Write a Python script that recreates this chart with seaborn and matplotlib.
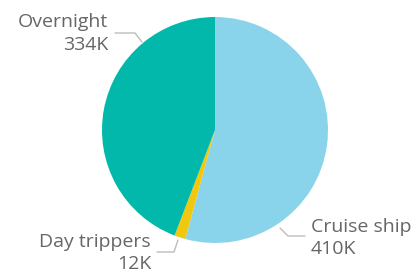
import matplotlib
matplotlib.use("Agg")
import matplotlib.pyplot as plt
import seaborn as sns

categories = ["Cruise ship", "Day trippers", "Overnight"]
values = [410, 12, 334]
value_labels = ["410K", "12K", "334K"]
colors = ["#8AD4EB", "#F2C80F", "#01B8AA"]

sns.set_theme(style="white")
plt.rcParams['font.family'] = ['Open Sans', 'DejaVu Sans']

W, H = 415, 274
fig = plt.figure(figsize=(W / 100, H / 100), dpi=100)
ax = fig.add_axes([0, 0, 1, 1])

ax.pie(values, colors=colors, startangle=90, counterclock=False,
       radius=113, center=(215, H - 130),
       wedgeprops=dict(linewidth=0))
ax.set_xlim(0, W)
ax.set_ylim(0, H)
ax.set_aspect('equal')
ax.axis('off')

txt_color = "#666666"
line_color = "#BDBDBD"
fs = 14

def Y(y):
    return H - y

# Overnight
ax.plot([115, 135, 142], [Y(33), Y(33), Y(42)], color=line_color, lw=1)
ax.text(108, Y(22), categories[2], ha='right', va='center', fontsize=fs, color=txt_color)
ax.text(108, Y(45), value_labels[2], ha='right', va='center', fontsize=fs, color=txt_color)

# Day trippers
ax.plot([157, 174, 178], [Y(252), Y(252), Y(240)], color=line_color, lw=1)
ax.text(151, Y(242), categories[1], ha='right', va='center', fontsize=fs, color=txt_color)
ax.text(151, Y(264), value_labels[1], ha='right', va='center', fontsize=fs, color=txt_color)

# Cruise ship
ax.plot([280, 288, 305], [Y(228), Y(236), Y(236)], color=line_color, lw=1)
ax.text(311, Y(227), categories[0], ha='left', va='center', fontsize=fs, color=txt_color)
ax.text(311, Y(249), value_labels[0], ha='left', va='center', fontsize=fs, color=txt_color)

fig.savefig("out.png", dpi=100)
